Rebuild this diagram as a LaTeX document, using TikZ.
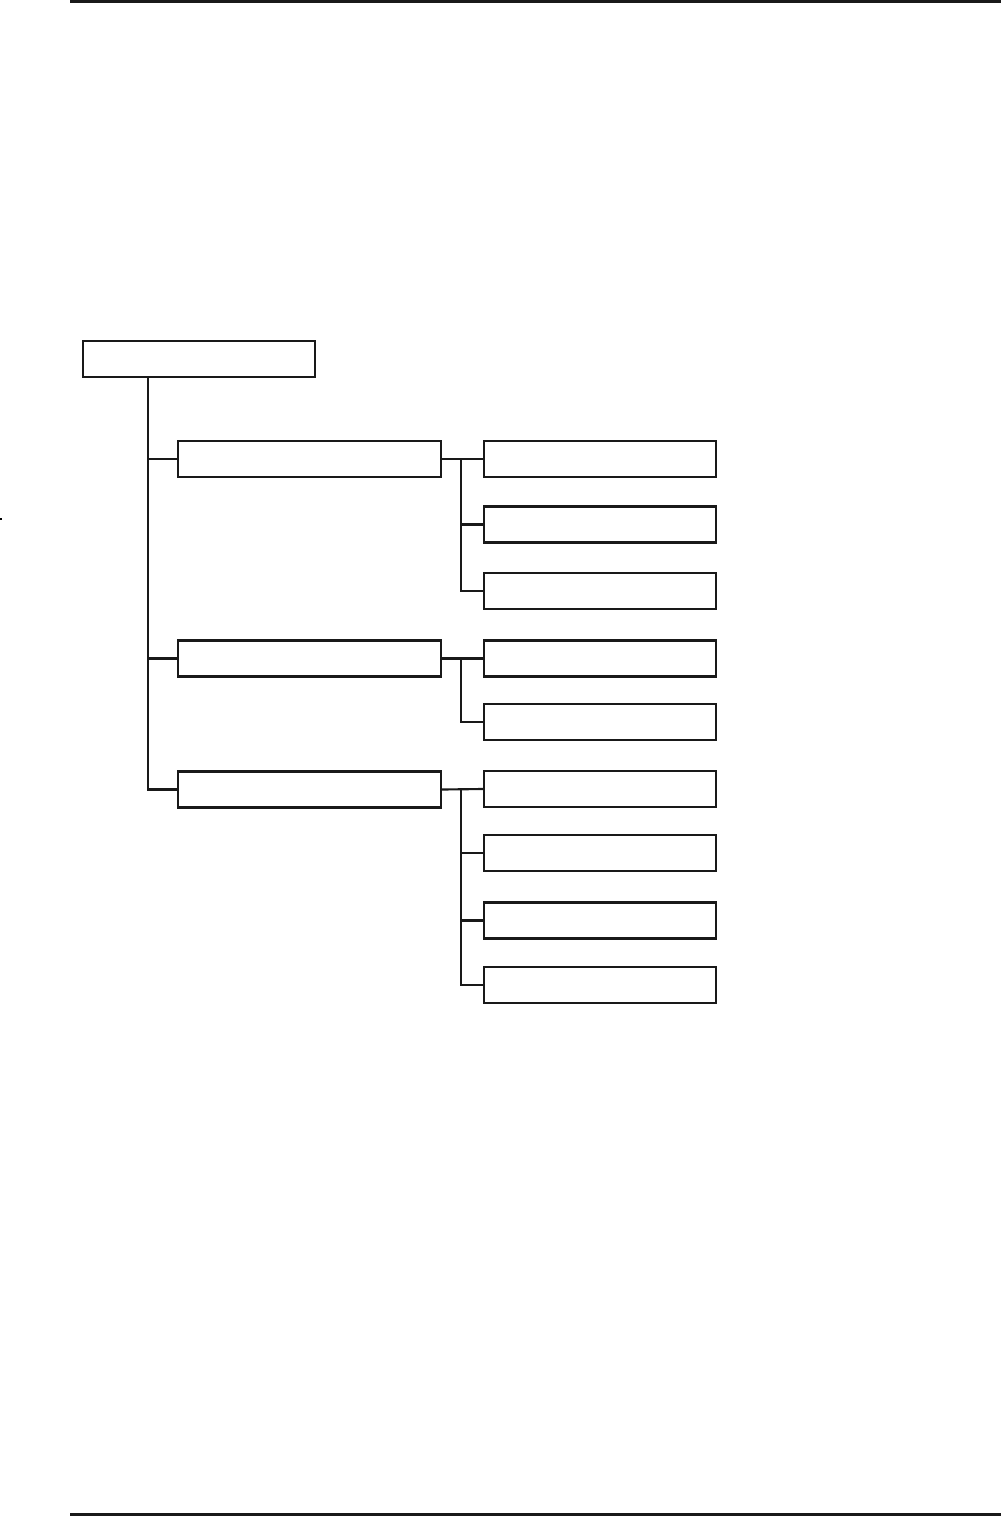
\documentclass[tikz,border=0pt]{standalone}
\begin{document}
\begin{tikzpicture}[x=0.75pt,y=-0.75pt,
  box/.style={draw=black!90,line width=1.6pt,rectangle,inner sep=0pt,minimum height=27pt},
  rootbox/.style={box,minimum width=174pt},
  midbox/.style={box,minimum width=197.25pt},
  leafbox/.style={box,minimum width=174pt},
  conn/.style={draw=black!90,line width=1.6pt},
  rule/.style={draw=black!90,line width=2pt}]
\useasboundingbox (0,0) rectangle (1001,1516);
% rules
\coordinate (tl) at (70,1.5); \coordinate (tr) at (1001,1.5);
\coordinate (bl) at (70,1514.5); \coordinate (br) at (1001,1514.5);
\draw[rule] (tl) -- (tr);
\draw[rule] (bl) -- (br);
\coordinate (m1) at (0,519); \coordinate (m2) at (2,519);
\draw[line width=1.5pt] (m1) -- (m2);
% nodes
\node[rootbox] (r) at (199,359) {};
\node[midbox] (a1) at (309.5,459) {};
\node[midbox] (a2) at (309.5,658.5) {};
\node[midbox] (a3) at (309.5,789.5) {};
\node[leafbox] (c11) at (600,459) {};
\node[leafbox] (c12) at (600,524.5) {};
\node[leafbox] (c13) at (600,591) {};
\node[leafbox] (c21) at (600,658.5) {};
\node[leafbox] (c22) at (600,722) {};
\node[leafbox] (c31) at (600,789) {};
\node[leafbox] (c32) at (600,853) {};
\node[leafbox] (c33) at (600,920.5) {};
\node[leafbox] (c34) at (600,985) {};
% connectors
\coordinate (tx) at (148,0);
\coordinate (bx) at (461,0);
\draw[conn] (r.south -| tx) |- (a1.west);
\draw[conn] (r.south -| tx) |- (a2.west);
\draw[conn] (r.south -| tx) |- (a3.west);
\draw[conn] (a1.east) -- (c11.west);
\draw[conn] (a1.east -| bx) |- (c12.west);
\draw[conn] (a1.east -| bx) |- (c13.west);
\draw[conn] (a2.east) -- (c21.west);
\draw[conn] (a2.east -| bx) |- (c22.west);
\draw[conn] (a3.east) -- (c31.west);
\draw[conn] (a3.east -| bx) |- (c32.west);
\draw[conn] (a3.east -| bx) |- (c33.west);
\draw[conn] (a3.east -| bx) |- (c34.west);
\end{tikzpicture}
\end{document}
